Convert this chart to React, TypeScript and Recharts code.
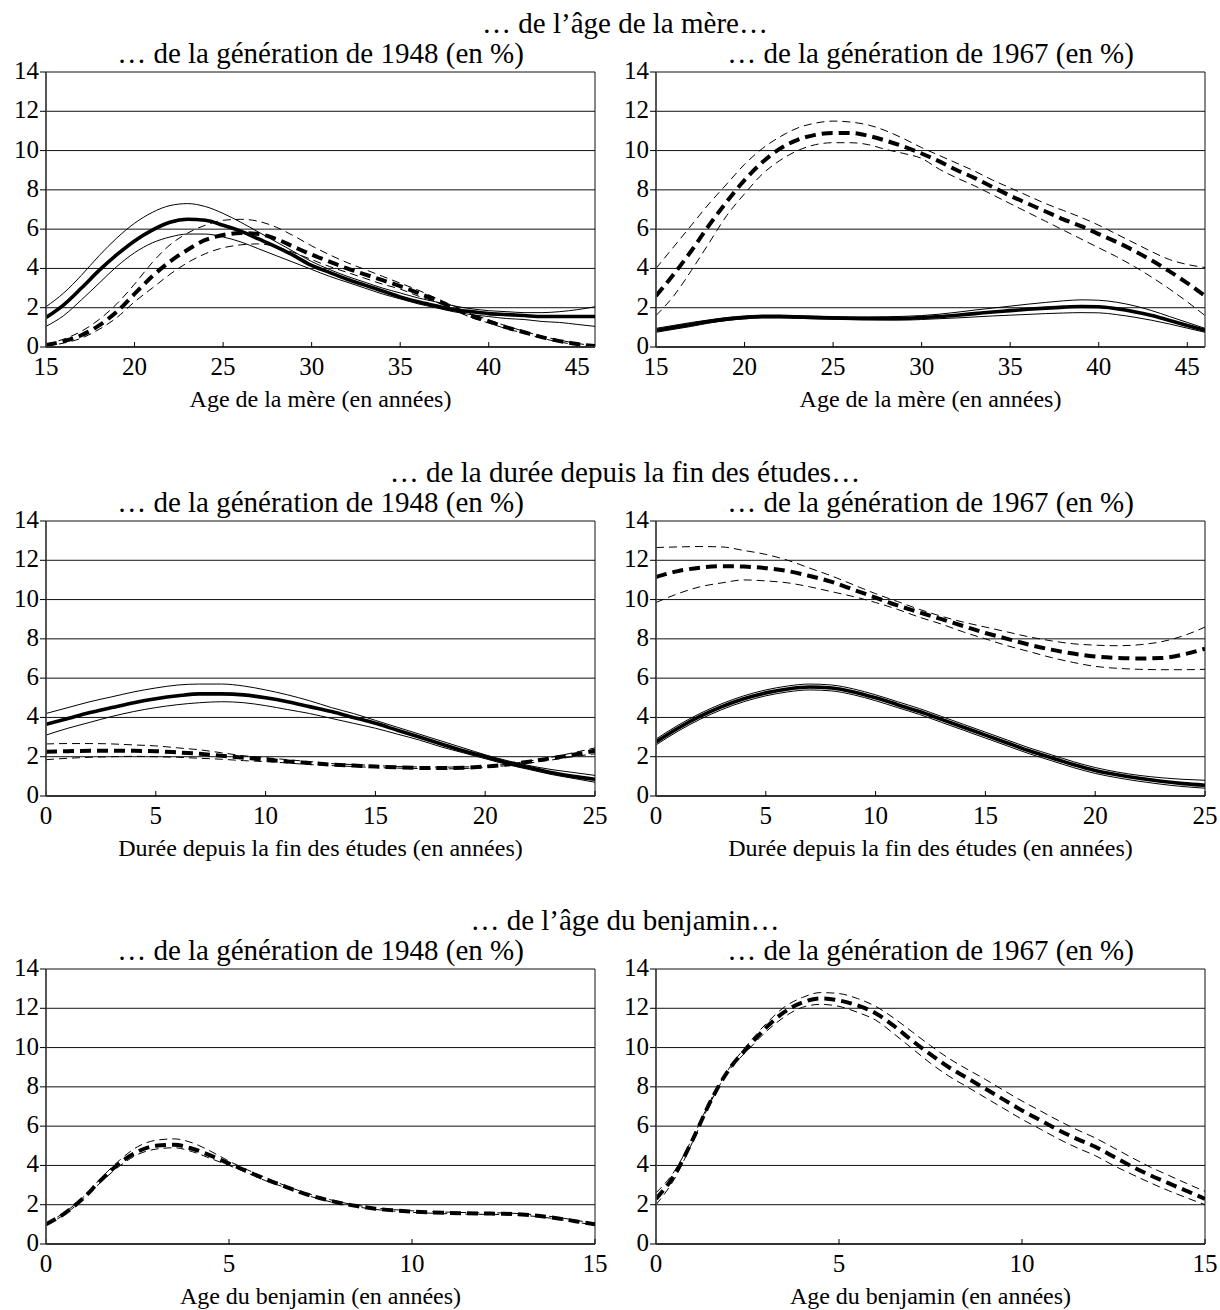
import React from "react";
import { LineChart, Line, XAxis, YAxis, CartesianGrid, ReferenceLine } from "recharts";

const FONT = '"Liberation Serif", "Times New Roman", Times, serif';
const Y_TICKS = [0, 2, 4, 6, 8, 10, 12, 14];

// ---- âge de la mère ----
const AGE_MERE = [15, 16, 17, 18, 19, 20, 21, 22, 23, 24, 25, 26, 27, 28, 29, 30, 31, 32, 33, 34, 35, 36, 37, 38, 39, 40, 41, 42, 43, 44, 45, 46];
const AGE_MERE_TICKS = [15, 20, 25, 30, 35, 40, 45];

const mere48Solid = [1.5, 2.15, 3.0, 3.9, 4.7, 5.4, 5.95, 6.35, 6.5, 6.45, 6.2, 5.9, 5.5, 5.1, 4.65, 4.15, 3.8, 3.45, 3.15, 2.85, 2.55, 2.3, 2.1, 1.9, 1.8, 1.7, 1.65, 1.6, 1.55, 1.55, 1.55, 1.55];
const mere48SolidHi = [2.05, 2.75, 3.65, 4.65, 5.55, 6.3, 6.85, 7.2, 7.3, 7.15, 6.8, 6.35, 5.85, 5.35, 4.85, 4.35, 3.95, 3.6, 3.3, 3.0, 2.75, 2.5, 2.3, 2.1, 1.95, 1.85, 1.8, 1.75, 1.75, 1.8, 1.9, 2.05];
const mere48SolidLo = [1.05, 1.6, 2.4, 3.25, 4.1, 4.8, 5.3, 5.6, 5.75, 5.75, 5.6, 5.35, 5.0, 4.65, 4.3, 3.95, 3.6, 3.3, 3.0, 2.7, 2.45, 2.2, 2.0, 1.8, 1.65, 1.55, 1.45, 1.4, 1.3, 1.25, 1.15, 1.05];
const mere48Dash = [0.1, 0.3, 0.6, 1.1, 1.8, 2.7, 3.6, 4.35, 4.95, 5.45, 5.7, 5.8, 5.75, 5.5, 5.1, 4.7, 4.35, 4.0, 3.7, 3.4, 3.1, 2.75, 2.4, 2.0, 1.6, 1.3, 1.0, 0.75, 0.5, 0.3, 0.15, 0.05];
const mere48DashHi = [0.15, 0.4, 0.8, 1.4, 2.2, 3.2, 4.3, 5.2, 5.8, 6.2, 6.45, 6.5, 6.4, 6.1, 5.65, 5.15, 4.7, 4.3, 3.95, 3.6, 3.25, 2.9, 2.5, 2.1, 1.7, 1.38, 1.07, 0.8, 0.55, 0.35, 0.18, 0.07];
const mere48DashLo = [0.05, 0.2, 0.45, 0.9, 1.5, 2.3, 3.0, 3.7, 4.3, 4.75, 5.05, 5.2, 5.25, 5.1, 4.8, 4.45, 4.1, 3.8, 3.5, 3.2, 2.95, 2.6, 2.3, 1.9, 1.5, 1.22, 0.93, 0.7, 0.45, 0.25, 0.12, 0.03];

const mere67Solid = [0.85, 1.0, 1.15, 1.3, 1.42, 1.5, 1.55, 1.55, 1.53, 1.5, 1.48, 1.46, 1.45, 1.45, 1.46, 1.5, 1.55, 1.62, 1.7, 1.78, 1.85, 1.92, 1.98, 2.03, 2.06, 2.05, 1.95, 1.8, 1.6, 1.35, 1.1, 0.85];
const mere67SolidHi = [0.95, 1.1, 1.25, 1.38, 1.5, 1.58, 1.62, 1.62, 1.6, 1.57, 1.55, 1.53, 1.53, 1.54, 1.56, 1.6, 1.67, 1.77, 1.88, 1.98, 2.08, 2.18, 2.27, 2.35, 2.4, 2.38, 2.28, 2.1, 1.85, 1.55, 1.25, 0.95];
const mere67SolidLo = [0.75, 0.9, 1.05, 1.22, 1.35, 1.43, 1.48, 1.48, 1.46, 1.43, 1.41, 1.39, 1.38, 1.37, 1.37, 1.4, 1.44, 1.48, 1.53, 1.58, 1.62, 1.66, 1.7, 1.73, 1.75, 1.74, 1.65, 1.52, 1.36, 1.17, 0.96, 0.75];
const mere67Dash = [2.6, 3.7, 4.9, 6.2, 7.4, 8.5, 9.4, 10.1, 10.55, 10.8, 10.9, 10.9, 10.75, 10.5, 10.2, 9.85, 9.45, 9.0, 8.6, 8.15, 7.7, 7.3, 6.9, 6.5, 6.15, 5.75, 5.35, 4.9, 4.4, 3.85, 3.25, 2.6];
const mere67DashHi = [4.0, 5.1, 6.2, 7.3, 8.3, 9.3, 10.1, 10.7, 11.15, 11.4, 11.5, 11.45, 11.3, 11.0, 10.6, 10.15, 9.75, 9.35, 8.95, 8.5, 8.1, 7.7, 7.3, 6.95, 6.6, 6.2, 5.75, 5.3, 4.85, 4.45, 4.2, 4.05];
const mere67DashLo = [1.6, 2.6, 3.9, 5.3, 6.7, 7.8, 8.8, 9.5, 10.0, 10.3, 10.4, 10.4, 10.3, 10.05, 9.85, 9.6, 9.05, 8.6, 8.2, 7.75, 7.3, 6.85, 6.4, 5.95, 5.5, 5.05, 4.6, 4.1, 3.55, 2.95, 2.3, 1.6];

// ---- durée depuis la fin des études ----
const DUREE = [0, 1, 2, 3, 4, 5, 6, 7, 8, 9, 10, 11, 12, 13, 14, 15, 16, 17, 18, 19, 20, 21, 22, 23, 24, 25];
const DUREE_TICKS = [0, 5, 10, 15, 20, 25];

const etu48Solid = [3.65, 3.95, 4.25, 4.5, 4.75, 4.95, 5.1, 5.2, 5.2, 5.15, 5.0, 4.8, 4.55, 4.3, 4.0, 3.7, 3.35, 3.0, 2.65, 2.3, 2.0, 1.7, 1.45, 1.2, 1.0, 0.85];
const etu48SolidHi = [4.2, 4.5, 4.8, 5.05, 5.3, 5.5, 5.65, 5.7, 5.7, 5.6, 5.4, 5.15, 4.85, 4.5, 4.2, 3.85, 3.5, 3.15, 2.8, 2.45, 2.1, 1.8, 1.55, 1.35, 1.2, 1.05];
const etu48SolidLo = [3.1, 3.45, 3.75, 4.05, 4.3, 4.5, 4.65, 4.75, 4.8, 4.75, 4.6, 4.4, 4.2, 3.95, 3.7, 3.45, 3.15, 2.85, 2.5, 2.2, 1.9, 1.6, 1.35, 1.1, 0.9, 0.7];
const etu48Dash = [2.25, 2.28, 2.3, 2.3, 2.3, 2.28, 2.22, 2.15, 2.05, 1.95, 1.85, 1.76, 1.68, 1.6, 1.55, 1.5, 1.46, 1.43, 1.42, 1.44, 1.5, 1.6, 1.75, 1.92, 2.1, 2.3];
const etu48DashHi = [2.65, 2.67, 2.67, 2.65, 2.6, 2.55, 2.45, 2.35, 2.2, 2.05, 1.95, 1.85, 1.75, 1.65, 1.6, 1.55, 1.5, 1.48, 1.47, 1.48, 1.52, 1.62, 1.78, 1.97, 2.2, 2.45];
const etu48DashLo = [1.85, 1.92, 1.97, 2.0, 2.02, 2.0, 1.97, 1.92, 1.87, 1.8, 1.75, 1.68, 1.6, 1.55, 1.5, 1.45, 1.42, 1.4, 1.38, 1.4, 1.45, 1.55, 1.68, 1.83, 2.0, 2.15];

const etu67Solid = [2.75, 3.45, 4.05, 4.55, 4.95, 5.25, 5.45, 5.55, 5.5, 5.3, 5.0, 4.65, 4.3, 3.9, 3.5, 3.1, 2.7, 2.3, 1.95, 1.6, 1.3, 1.08, 0.9, 0.75, 0.63, 0.55];
const etu67SolidHi = [2.9, 3.6, 4.2, 4.7, 5.1, 5.4, 5.6, 5.7, 5.65, 5.45, 5.15, 4.8, 4.45, 4.05, 3.65, 3.25, 2.85, 2.45, 2.1, 1.75, 1.45, 1.22, 1.05, 0.93, 0.85, 0.8];
const etu67SolidLo = [2.6, 3.3, 3.9, 4.4, 4.8, 5.1, 5.3, 5.4, 5.35, 5.15, 4.85, 4.5, 4.15, 3.75, 3.35, 2.95, 2.55, 2.15, 1.8, 1.45, 1.15, 0.93, 0.75, 0.6, 0.48, 0.4];
const etu67Dash = [11.15, 11.45, 11.62, 11.7, 11.68, 11.6, 11.45, 11.2, 10.9, 10.5, 10.1, 9.7, 9.35, 9.0, 8.65, 8.3, 8.0, 7.7, 7.45, 7.25, 7.1, 7.03, 7.0, 7.02, 7.2, 7.5];
const etu67DashHi = [12.65, 12.68, 12.7, 12.68, 12.5, 12.3, 12.0, 11.6, 11.2, 10.75, 10.3, 9.9, 9.5, 9.15, 8.85, 8.6, 8.35, 8.1, 7.9, 7.75, 7.68, 7.65, 7.7, 7.85, 8.15, 8.6];
const etu67DashLo = [9.85, 10.3, 10.65, 10.85, 11.0, 10.95, 10.85, 10.65, 10.4, 10.15, 9.85, 9.5, 9.1, 8.75, 8.35, 8.0, 7.65, 7.35, 7.05, 6.8, 6.6, 6.5, 6.45, 6.43, 6.43, 6.45];

// ---- âge du benjamin ----
const AGE_BENJ = [0, 0.5, 1, 1.5, 2, 2.5, 3, 3.5, 4, 4.5, 5, 5.5, 6, 6.5, 7, 7.5, 8, 8.5, 9, 9.5, 10, 10.5, 11, 11.5, 12, 12.5, 13, 13.5, 14, 14.5, 15];
const AGE_BENJ_TICKS = [0, 5, 10, 15];

const benj48Dash = [1.0, 1.55, 2.3, 3.25, 4.1, 4.7, 5.0, 5.05, 4.85, 4.5, 4.1, 3.7, 3.3, 2.95, 2.6, 2.33, 2.1, 1.93, 1.8, 1.71, 1.65, 1.61, 1.58, 1.56, 1.55, 1.54, 1.5, 1.42, 1.3, 1.15, 1.0];
const benj48DashHi = [1.05, 1.6, 2.35, 3.35, 4.25, 4.95, 5.28, 5.35, 5.15, 4.72, 4.22, 3.78, 3.38, 3.0, 2.66, 2.38, 2.15, 1.97, 1.84, 1.75, 1.69, 1.65, 1.62, 1.6, 1.59, 1.58, 1.54, 1.46, 1.35, 1.2, 1.05];
const benj48DashLo = [0.95, 1.5, 2.25, 3.15, 3.95, 4.55, 4.83, 4.9, 4.7, 4.35, 4.0, 3.62, 3.22, 2.9, 2.55, 2.28, 2.05, 1.89, 1.76, 1.67, 1.61, 1.57, 1.54, 1.52, 1.51, 1.5, 1.46, 1.38, 1.26, 1.11, 0.96];

const benj67Dash = [2.3, 3.5, 5.3, 7.3, 8.9, 10.0, 11.0, 11.8, 12.3, 12.5, 12.4, 12.15, 11.75, 11.1, 10.35, 9.65, 9.0, 8.45, 7.9, 7.35, 6.8, 6.3, 5.8, 5.35, 4.95, 4.45, 3.95, 3.5, 3.1, 2.7, 2.3];
const benj67DashHi = [2.6, 3.7, 5.4, 7.35, 8.95, 10.15, 11.2, 12.05, 12.55, 12.8, 12.75, 12.5, 12.1, 11.5, 10.8, 10.1, 9.45, 8.9, 8.38, 7.82, 7.28, 6.78, 6.28, 5.82, 5.4, 4.9, 4.4, 3.92, 3.5, 3.08, 2.68];
const benj67DashLo = [2.0, 3.3, 5.2, 7.25, 8.85, 9.85, 10.8, 11.55, 12.05, 12.2, 12.1, 11.8, 11.4, 10.7, 9.95, 9.2, 8.55, 8.0, 7.45, 6.9, 6.35, 5.85, 5.35, 4.9, 4.5, 4.0, 3.55, 3.12, 2.72, 2.35, 2.0];

function buildRows(xs: number[], cols: Record<string, number[] | undefined>) {
  return xs.map((x, i) => {
    const r: any = { x };
    for (const k of Object.keys(cols)) if (cols[k]) r[k] = cols[k]![i];
    return r;
  });
}

const PLOT_H = 275;
const CHART_W = 610;
const Y_AXIS_W = 46;
const TICK_FS = 25;

// tick labels drawn as plain svg text so the serif font is sure to apply
// (x ticks point inward, so the label is pushed back below the axis line)
const XTick = ({ x, y, payload }: any) => (
  <text x={x} y={y + 33} textAnchor="middle" fontSize={TICK_FS} fontFamily={FONT} fill="#000">
    {payload.value}
  </text>
);
const YTick = ({ x, y, payload }: any) => (
  <text x={x - 1} y={y + 7} textAnchor="end" fontSize={TICK_FS} fontFamily={FONT} fill="#000">
    {payload.value}
  </text>
);

function Panel({ left, top, data, xTicks, xMax, subtitle, xLabel, solid }: any) {
  const xMin = xTicks[0];
  const plotLeft = left + Y_AXIS_W;
  const plotW = CHART_W - Y_AXIS_W - 15;
  const line = (key: string, width: number, dash?: string) => (
    <Line
      key={key}
      type="monotone"
      dataKey={key}
      stroke="#000"
      strokeWidth={width}
      strokeDasharray={dash}
      dot={false}
      activeDot={false}
      isAnimationActive={false}
    />
  );
  return (
    <>
      <div
        style={{
          position: "absolute",
          left: plotLeft,
          width: plotW,
          top: top - 33,
          textAlign: "center",
          fontSize: 29,
          lineHeight: "29px",
          fontFamily: FONT,
          whiteSpace: "nowrap",
        }}
      >
        {subtitle}
      </div>
      <div style={{ position: "absolute", left, top: top - 20, fontFamily: FONT }}>
        <LineChart
          width={CHART_W}
          height={20 + PLOT_H + 45}
          data={data}
          margin={{ top: 20, right: 15, bottom: 0, left: 0 }}
        >
          <CartesianGrid vertical={false} stroke="#111" strokeWidth={1} />
          <XAxis
            type="number"
            dataKey="x"
            domain={[xMin, xMax]}
            ticks={xTicks}
            allowDataOverflow
            height={45}
            tick={<XTick />}
            tickSize={-5}
            tickMargin={0}
            tickLine={{ stroke: "#000" }}
            axisLine={{ stroke: "#333", strokeWidth: 1.8 }}
          />
          <YAxis
            type="number"
            domain={[0, 14]}
            ticks={Y_TICKS}
            width={Y_AXIS_W}
            tick={<YTick />}
            tickSize={6}
            tickMargin={0}
            tickLine={{ stroke: "#000" }}
            axisLine={{ stroke: "#444", strokeWidth: 1.8 }}
          />
          <ReferenceLine x={xMax} stroke="#111" strokeWidth={1} />
          {solid && line("sh", 1)}
          {solid && line("sl", 1)}
          {line("dh", 1, "8 5")}
          {line("dl", 1, "8 5")}
          {solid && line("s", 3.6)}
          {line("d", 4, "11 6")}
        </LineChart>
      </div>
      <div
        style={{
          position: "absolute",
          left: plotLeft,
          width: plotW,
          top: top + PLOT_H + 40,
          textAlign: "center",
          fontSize: 24,
          lineHeight: "24px",
          fontFamily: FONT,
          whiteSpace: "nowrap",
        }}
      >
        {xLabel}
      </div>
    </>
  );
}

function MainTitle({ top, text }: any) {
  return (
    <div
      style={{
        position: "absolute",
        left: 225,
        width: 800,
        top,
        textAlign: "center",
        fontSize: 29,
        lineHeight: "29px",
        fontFamily: FONT,
        whiteSpace: "nowrap",
      }}
    >
      {text}
    </div>
  );
}

const SUB48 = "… de la génération de 1948 (en %)";
const SUB67 = "… de la génération de 1967 (en %)";
const ROW_TOPS = [72, 521, 969];

export default function App() {
  const mere48 = buildRows(AGE_MERE, { s: mere48Solid, sh: mere48SolidHi, sl: mere48SolidLo, d: mere48Dash, dh: mere48DashHi, dl: mere48DashLo });
  const mere67 = buildRows(AGE_MERE, { s: mere67Solid, sh: mere67SolidHi, sl: mere67SolidLo, d: mere67Dash, dh: mere67DashHi, dl: mere67DashLo });
  const etu48 = buildRows(DUREE, { s: etu48Solid, sh: etu48SolidHi, sl: etu48SolidLo, d: etu48Dash, dh: etu48DashHi, dl: etu48DashLo });
  const etu67 = buildRows(DUREE, { s: etu67Solid, sh: etu67SolidHi, sl: etu67SolidLo, d: etu67Dash, dh: etu67DashHi, dl: etu67DashLo });
  const benj48 = buildRows(AGE_BENJ, { d: benj48Dash, dh: benj48DashHi, dl: benj48DashLo });
  const benj67 = buildRows(AGE_BENJ, { d: benj67Dash, dh: benj67DashHi, dl: benj67DashLo });

  return (
    <div
      style={{
        position: "absolute",
        left: 0,
        top: 0,
        width: 1220,
        height: 1310,
        overflow: "hidden",
        background: "#fff",
        color: "#000",
        fontFamily: FONT,
      }}
    >
      <MainTitle top={ROW_TOPS[0] - 63} text="… de l’âge de la mère…" />
      <Panel left={0} top={ROW_TOPS[0]} data={mere48} xTicks={AGE_MERE_TICKS} xMax={46} subtitle={SUB48} xLabel="Age de la mère (en années)" solid />
      <Panel left={610} top={ROW_TOPS[0]} data={mere67} xTicks={AGE_MERE_TICKS} xMax={46} subtitle={SUB67} xLabel="Age de la mère (en années)" solid />

      <MainTitle top={ROW_TOPS[1] - 63} text="… de la durée depuis la fin des études…" />
      <Panel left={0} top={ROW_TOPS[1]} data={etu48} xTicks={DUREE_TICKS} xMax={25} subtitle={SUB48} xLabel="Durée depuis la fin des études (en années)" solid />
      <Panel left={610} top={ROW_TOPS[1]} data={etu67} xTicks={DUREE_TICKS} xMax={25} subtitle={SUB67} xLabel="Durée depuis la fin des études (en années)" solid />

      <MainTitle top={ROW_TOPS[2] - 63} text="… de l’âge du benjamin…" />
      <Panel left={0} top={ROW_TOPS[2]} data={benj48} xTicks={AGE_BENJ_TICKS} xMax={15} subtitle={SUB48} xLabel="Age du benjamin (en années)" solid={false} />
      <Panel left={610} top={ROW_TOPS[2]} data={benj67} xTicks={AGE_BENJ_TICKS} xMax={15} subtitle={SUB67} xLabel="Age du benjamin (en années)" solid={false} />
    </div>
  );
}
